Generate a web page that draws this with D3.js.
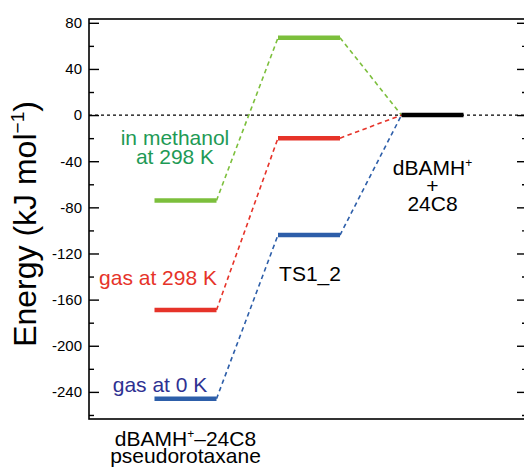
<!DOCTYPE html>
<html>
<head>
<meta charset="utf-8">
<script src="https://cdn.jsdelivr.net/npm/d3@7"></script>
<style>
  html, body { margin: 0; padding: 0; background: #fff; }
  svg { display: block; font-family: "Liberation Sans", Arial, Helvetica, sans-serif; }
</style>
</head>
<body>
<svg id="chart" width="524" height="471"></svg>
<script>
// ---- data ----
const stages = ["pseudorotaxane", "TS1_2", "separated"];
const seriesNames = ["in methanol at 298 K", "gas at 298 K", "gas at 0 K"];
const methanol298 = [-74, 67, 0];
const gas298 = [-169, -20, 0];
const gas0K = [-246, -104, 0];
const majorTicks = [80, 40, 0, -40, -80, -120, -160, -200, -240];
const minorTicks = [60, 20, -20, -60, -100, -140, -180, -220, -260];
const yDomain = [-263.5, 83.3];

const seriesColors = ["#7cbf3c", "#e63329", "#2d5ea9"];
const labelColors = ["#1e9a55", "#e63329", "#2e3192"];

// ---- layout ----
const svg = d3.select("#chart");
const mLeft = 89, mRight = 527, mTop = 19, mBottom = 419;
const y = d3.scaleLinear().domain(yDomain).range([mBottom, mTop]);
const x = d3.scalePoint().domain(stages).range([185.5, 432.5]);
const halfW = 31;
const font = "\"Liberation Sans\", Arial, Helvetica, sans-serif";

// zero reference line
svg.append("line")
  .attr("x1", mLeft).attr("x2", mRight)
  .attr("y1", y(0)).attr("y2", y(0))
  .attr("stroke", "#000").attr("stroke-width", 1.2)
  .attr("stroke-dasharray", "3,3");

// axes
const gL = svg.append("g").attr("transform", `translate(${mLeft},0)`)
  .call(d3.axisLeft(y).tickValues(majorTicks).tickSize(-10).tickPadding(7)
    .tickFormat(d => d < 0 ? "-" + Math.abs(d) : String(d)));
gL.selectAll(".tick text").attr("font-size", 15).attr("font-family", font).attr("fill", "#000");
svg.append("g").attr("transform", `translate(${mLeft},0)`)
  .call(d3.axisLeft(y).tickValues(minorTicks).tickSize(-5).tickFormat(""));
svg.append("g").attr("transform", `translate(${mRight},0)`)
  .call(d3.axisRight(y).tickValues(majorTicks).tickSize(-10).tickFormat(""));
svg.append("g").attr("transform", `translate(${mRight},0)`)
  .call(d3.axisRight(y).tickValues(minorTicks).tickSize(-5).tickFormat(""));
svg.selectAll(".domain").remove();
svg.selectAll(".tick line").attr("stroke", "#000").attr("stroke-width", 1.4);

// frame
svg.append("rect")
  .attr("x", mLeft).attr("y", mTop)
  .attr("width", mRight - mLeft).attr("height", mBottom - mTop)
  .attr("fill", "none").attr("stroke", "#000").attr("stroke-width", 1.6);

// connectors and levels
const allSeries = [methanol298, gas298, gas0K];
allSeries.forEach((vals, si) => {
  const col = seriesColors[si];
  for (let i = 0; i < vals.length - 1; i++) {
    svg.append("line")
      .attr("x1", x(stages[i]) + halfW).attr("y1", y(vals[i]))
      .attr("x2", x(stages[i + 1]) - halfW).attr("y2", y(vals[i + 1]))
      .attr("stroke", col).attr("stroke-width", 1.6)
      .attr("stroke-dasharray", "4.5,3.5");
  }
  vals.forEach((v, i) => {
    if (i === vals.length - 1) return;
    svg.append("line")
      .attr("x1", x(stages[i]) - halfW).attr("x2", x(stages[i]) + halfW)
      .attr("y1", y(v)).attr("y2", y(v))
      .attr("stroke", col).attr("stroke-width", 4.5);
  });
});
// common final level
svg.append("line")
  .attr("x1", x(stages[2]) - halfW).attr("x2", x(stages[2]) + halfW)
  .attr("y1", y(0)).attr("y2", y(0))
  .attr("stroke", "#000").attr("stroke-width", 4.5);

// helper for multi-line text
function addText(lines, cx, baseline, lh, color) {
  const t = svg.append("text").attr("text-anchor", "middle")
    .attr("font-size", 21).attr("font-family", font).attr("fill", color);
  lines.forEach((ln, i) => {
    const parts = Array.isArray(ln) ? ln : [[ln, false]];
    parts.forEach((p, j) => {
      const ts = t.append("tspan").text(p[0]);
      if (j === 0) ts.attr("x", cx).attr("y", baseline + i * lh);
      if (p[1]) ts.attr("font-size", 12).attr("dy", -8);
      else if (j > 0 && parts[j - 1][1]) ts.attr("dy", 8);
    });
  });
  return t;
}

// series labels
addText(["in methanol", "at 298 K"], 175, 145, 19, labelColors[0]);
addText(["gas at 298 K"], 158, 285, 19, labelColors[1]);
addText(["gas at 0 K"], 160, 392, 19, labelColors[2]);

// stage labels
addText(["TS1_2"], x(stages[1]) + 1, 281, 18, "#000");
addText([[["dBAMH", false], ["+", true]], "+", "24C8"], x(stages[2]), 175, 18, "#000");
addText([[["dBAMH", false], ["+", true], ["\u201324C8", false]], "pseudorotaxane"], x(stages[0]), 446, 17, "#000");

// y axis title
const yt = svg.append("text")
  .attr("transform", "translate(36,224) rotate(-90)")
  .attr("text-anchor", "middle")
  .attr("font-size", 32).attr("font-family", font).attr("fill", "#000");
yt.append("tspan").text("Energy (kJ mol");
yt.append("tspan").text("\u22121").attr("font-size", 19).attr("dy", -12);
yt.append("tspan").text(")").attr("dy", 12);
</script>
</body>
</html>
